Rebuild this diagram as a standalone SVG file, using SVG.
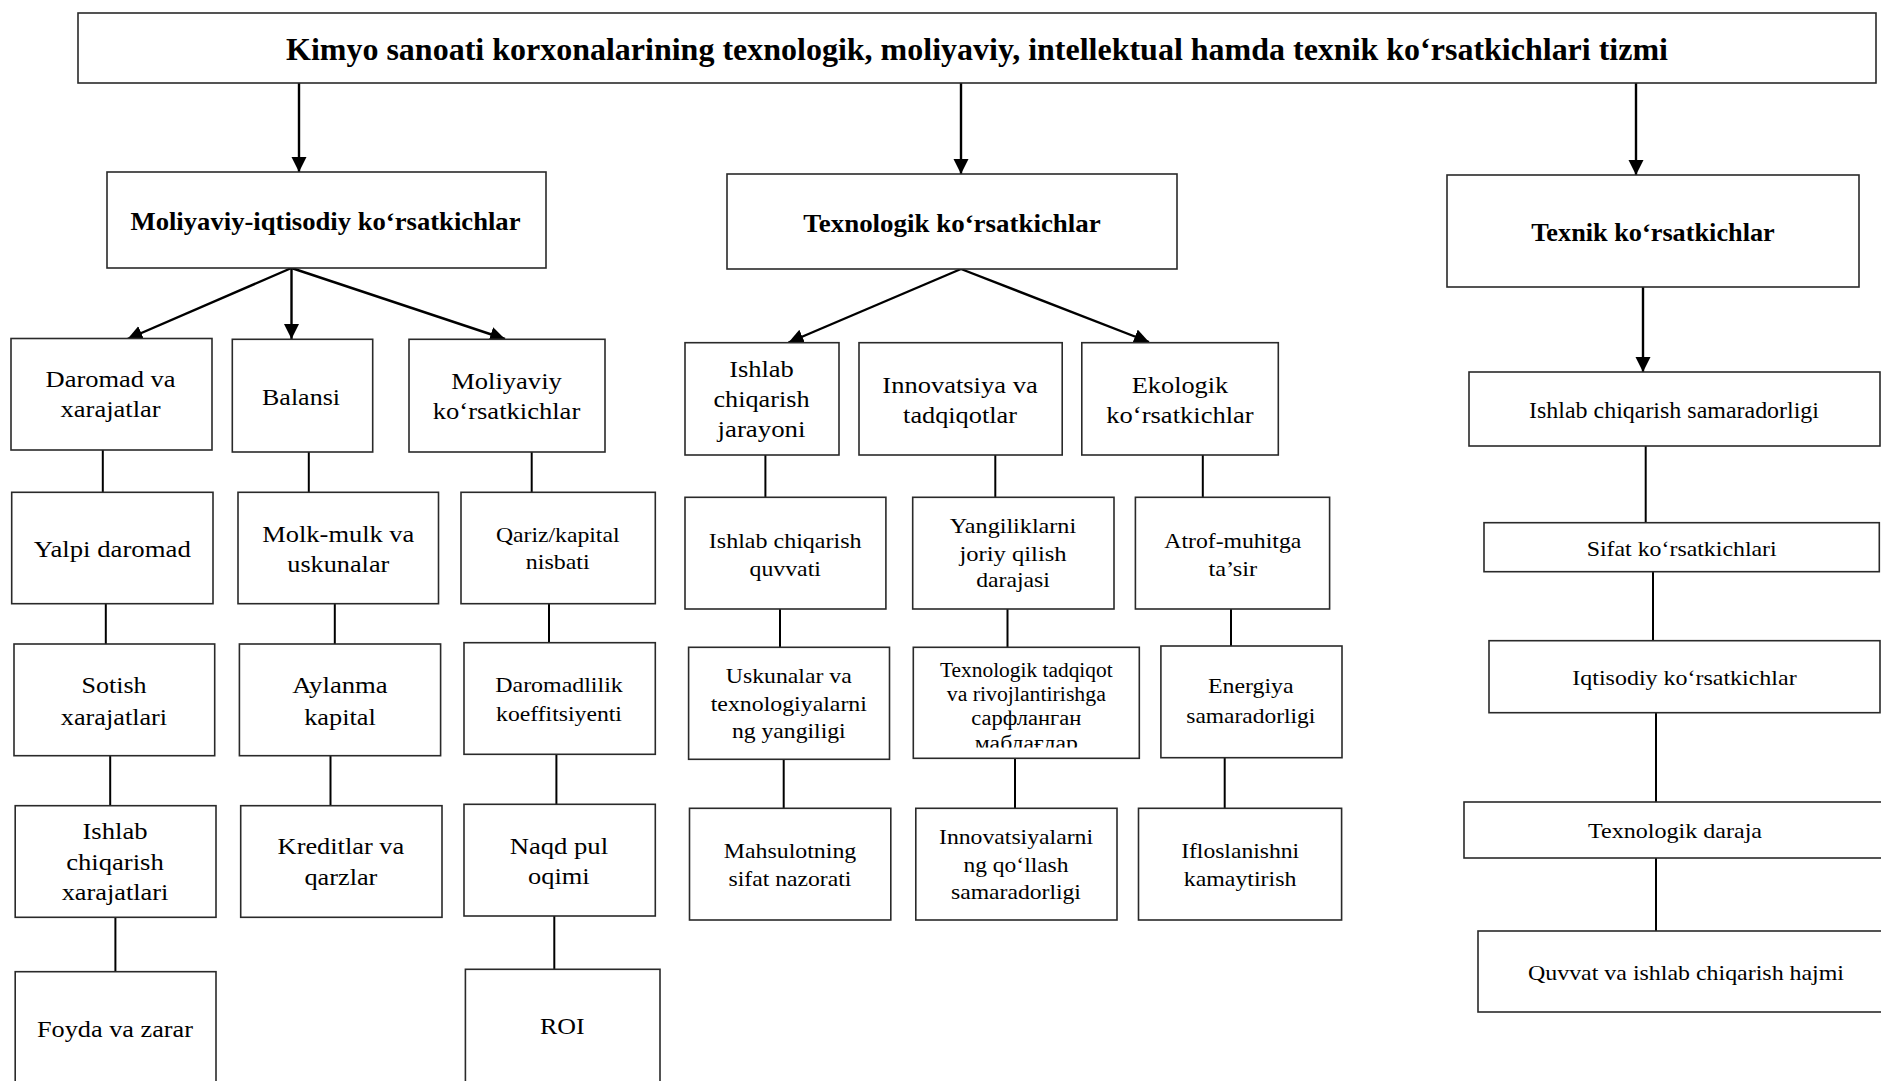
<svg xmlns="http://www.w3.org/2000/svg" width="1881" height="1081" viewBox="0 0 1881 1081">
  <style>
    .box { fill: #ffffff; stroke: #2a2a2a; stroke-width: 1.6; }
    .t { font-family: "Liberation Serif", "Times New Roman", serif; text-anchor: middle; fill: #000000; }
    .b { font-weight: bold; }
    .s31 { font-size: 31px; }
    .s26 { font-size: 26px; }
    .s24 { font-size: 24px; }
    .s22 { font-size: 22px; }
    .s21 { font-size: 21px; }
    .s20 { font-size: 20px; }
    .ln { stroke: #000000; stroke-width: 2; fill: none; }
    .ar { stroke: #000000; stroke-width: 2.4; fill: none; marker-end: url(#head); }
  </style>
  <defs>
    <marker id="head" markerUnits="userSpaceOnUse" markerWidth="16" markerHeight="16" refX="15" refY="7.5" orient="auto">
      <path d="M0,0 L15,7.5 L0,15 Z" fill="#000000"/>
    </marker>
    <clipPath id="clip-tadqiqot">
      <rect x="914" y="648" width="224" height="99.5"/>
    </clipPath>
  </defs>

  <rect x="0" y="0" width="1881" height="1081" fill="#ffffff"/>

  <!-- connectors -->
  <g id="connectors">
    <line class="ar" x1="299" y1="83" x2="299" y2="172"/>
    <line class="ar" x1="961" y1="83" x2="961" y2="174"/>
    <line class="ar" x1="1636" y1="83" x2="1636" y2="175"/>

    <line class="ar" x1="291.5" y1="268" x2="127.5" y2="339"/>
    <line class="ar" x1="291.5" y1="268" x2="291.5" y2="339"/>
    <line class="ar" x1="291.5" y1="268" x2="505" y2="339"/>

    <line class="ar" x1="961" y1="269" x2="788.5" y2="342.5"/>
    <line class="ar" x1="961" y1="269" x2="1149" y2="342"/>

    <line class="ar" x1="1643" y1="287" x2="1643" y2="372"/>

    <line class="ln" x1="102.8" y1="450" x2="102.8" y2="492"/>
    <line class="ln" x1="308.8" y1="452" x2="308.8" y2="492"/>
    <line class="ln" x1="531.7" y1="452" x2="531.7" y2="492"/>
    <line class="ln" x1="105.8" y1="604" x2="105.8" y2="644"/>
    <line class="ln" x1="334.8" y1="604" x2="334.8" y2="644"/>
    <line class="ln" x1="549" y1="604" x2="549" y2="642.7"/>
    <line class="ln" x1="110.2" y1="756" x2="110.2" y2="805.7"/>
    <line class="ln" x1="330.5" y1="756" x2="330.5" y2="805.7"/>
    <line class="ln" x1="556.4" y1="754.3" x2="556.4" y2="804.3"/>
    <line class="ln" x1="115.4" y1="917.3" x2="115.4" y2="971.7"/>
    <line class="ln" x1="554.3" y1="916" x2="554.3" y2="969.3"/>

    <line class="ln" x1="765.4" y1="455" x2="765.4" y2="497.3"/>
    <line class="ln" x1="995.3" y1="455" x2="995.3" y2="497.3"/>
    <line class="ln" x1="1202.8" y1="455" x2="1202.8" y2="497.3"/>
    <line class="ln" x1="780" y1="609" x2="780" y2="647.3"/>
    <line class="ln" x1="1007.5" y1="609" x2="1007.5" y2="647.3"/>
    <line class="ln" x1="1231" y1="609" x2="1231" y2="646"/>
    <line class="ln" x1="783.7" y1="759.3" x2="783.7" y2="808.3"/>
    <line class="ln" x1="1015" y1="758.3" x2="1015" y2="808.3"/>
    <line class="ln" x1="1224.7" y1="757.7" x2="1224.7" y2="808.3"/>

    <line class="ln" x1="1645.7" y1="446" x2="1645.7" y2="522.7"/>
    <line class="ln" x1="1653" y1="571.7" x2="1653" y2="640.7"/>
    <line class="ln" x1="1656" y1="712.7" x2="1656" y2="802"/>
    <line class="ln" x1="1656" y1="858" x2="1656" y2="931"/>
  </g>

  <!-- root -->
  <g id="tizim">
    <rect class="box" x="78" y="13" width="1798" height="70"/>
    <text class="t b s31" x="977" y="60" textLength="1382" lengthAdjust="spacingAndGlyphs">Kimyo sanoati korxonalarining texnologik, moliyaviy, intellektual hamda texnik ko‘rsatkichlari tizmi</text>
  </g>

  <!-- headers -->
  <g id="moliyaviy-iqtisodiy">
    <rect class="box" x="107" y="172" width="439" height="96"/>
    <text class="t b s26" x="325.5" y="230" textLength="390" lengthAdjust="spacingAndGlyphs">Moliyaviy-iqtisodiy ko‘rsatkichlar</text>
  </g>
  <g id="texnologik">
    <rect class="box" x="727" y="174" width="450" height="95"/>
    <text class="t b s26" x="952" y="231.5" textLength="297.5" lengthAdjust="spacingAndGlyphs">Texnologik ko‘rsatkichlar</text>
  </g>
  <g id="texnik">
    <rect class="box" x="1447" y="175" width="412" height="112"/>
    <text class="t b s26" x="1653" y="240.7" textLength="243.5" lengthAdjust="spacingAndGlyphs">Texnik ko‘rsatkichlar</text>
  </g>

  <!-- financial branch -->
  <g id="daromad-xarajatlar">
    <rect class="box" x="11" y="338.5" width="201" height="111.5"/>
    <text class="t s24" x="110.6" y="387.3" textLength="130" lengthAdjust="spacingAndGlyphs">Daromad va</text>
    <text class="t s24" x="110.6" y="417.3" textLength="100" lengthAdjust="spacingAndGlyphs">xarajatlar</text>
  </g>
  <g id="balansi">
    <rect class="box" x="232.3" y="339.3" width="140.4" height="112.7"/>
    <text class="t s24" x="301" y="405" textLength="78" lengthAdjust="spacingAndGlyphs">Balansi</text>
  </g>
  <g id="moliyaviy-korsatkichlar">
    <rect class="box" x="409" y="339.3" width="196" height="112.7"/>
    <text class="t s24" x="506.5" y="389.3" textLength="110.6" lengthAdjust="spacingAndGlyphs">Moliyaviy</text>
    <text class="t s24" x="506.5" y="419.3" textLength="147.5" lengthAdjust="spacingAndGlyphs">ko‘rsatkichlar</text>
  </g>

  <g id="yalpi-daromad">
    <rect class="box" x="11.7" y="492.3" width="201.3" height="111.4"/>
    <text class="t s24" x="112.3" y="557.3" textLength="157" lengthAdjust="spacingAndGlyphs">Yalpi daromad</text>
  </g>
  <g id="molk-mulk">
    <rect class="box" x="238" y="492.3" width="200.5" height="111.4"/>
    <text class="t s24" x="338.3" y="541.7" textLength="152" lengthAdjust="spacingAndGlyphs">Molk-mulk va</text>
    <text class="t s24" x="338.3" y="571.7" textLength="102" lengthAdjust="spacingAndGlyphs">uskunalar</text>
  </g>
  <g id="qariz-kapital">
    <rect class="box" x="461" y="492.3" width="194.3" height="111.4"/>
    <text class="t s21" x="557.7" y="541.5" textLength="123.6" lengthAdjust="spacingAndGlyphs">Qariz/kapital</text>
    <text class="t s21" x="557.7" y="569" textLength="63.8" lengthAdjust="spacingAndGlyphs">nisbati</text>
  </g>

  <g id="sotish-xarajatlari">
    <rect class="box" x="14" y="644" width="200.7" height="111.7"/>
    <text class="t s24" x="114" y="693.3" textLength="65" lengthAdjust="spacingAndGlyphs">Sotish</text>
    <text class="t s24" x="114" y="725" textLength="106.3" lengthAdjust="spacingAndGlyphs">xarajatlari</text>
  </g>
  <g id="aylanma-kapital">
    <rect class="box" x="239.4" y="644" width="201.2" height="111.7"/>
    <text class="t s24" x="340" y="693.3" textLength="95.4" lengthAdjust="spacingAndGlyphs">Aylanma</text>
    <text class="t s24" x="340" y="725" textLength="71.6" lengthAdjust="spacingAndGlyphs">kapital</text>
  </g>
  <g id="daromadlilik">
    <rect class="box" x="464" y="642.7" width="191.3" height="111.6"/>
    <text class="t s21" x="559" y="692.3" textLength="127.5" lengthAdjust="spacingAndGlyphs">Daromadlilik</text>
    <text class="t s21" x="559" y="720.7" textLength="125.8" lengthAdjust="spacingAndGlyphs">koeffitsiyenti</text>
  </g>

  <g id="ishlab-chiqarish-xarajatlari">
    <rect class="box" x="15.2" y="805.7" width="200.8" height="111.6"/>
    <text class="t s24" x="115" y="839.3" textLength="65" lengthAdjust="spacingAndGlyphs">Ishlab</text>
    <text class="t s24" x="115" y="870" textLength="97.6" lengthAdjust="spacingAndGlyphs">chiqarish</text>
    <text class="t s24" x="115" y="900.3" textLength="106.7" lengthAdjust="spacingAndGlyphs">xarajatlari</text>
  </g>
  <g id="kreditlar-qarzlar">
    <rect class="box" x="240.7" y="805.7" width="201.3" height="111.6"/>
    <text class="t s24" x="340.9" y="854" textLength="126.6" lengthAdjust="spacingAndGlyphs">Kreditlar va</text>
    <text class="t s24" x="340.9" y="885" textLength="72.9" lengthAdjust="spacingAndGlyphs">qarzlar</text>
  </g>
  <g id="naqd-pul">
    <rect class="box" x="464" y="804.3" width="191.3" height="111.7"/>
    <text class="t s24" x="558.9" y="854" textLength="98.4" lengthAdjust="spacingAndGlyphs">Naqd pul</text>
    <text class="t s24" x="558.9" y="884" textLength="61.6" lengthAdjust="spacingAndGlyphs">oqimi</text>
  </g>

  <g id="foyda-zarar">
    <rect class="box" x="15.2" y="971.7" width="200.8" height="130"/>
    <text class="t s24" x="115" y="1036.7" textLength="156" lengthAdjust="spacingAndGlyphs">Foyda va zarar</text>
  </g>
  <g id="roi">
    <rect class="box" x="465.4" y="969.3" width="194.6" height="130"/>
    <text class="t s24" x="562.3" y="1034" textLength="44.7" lengthAdjust="spacingAndGlyphs">ROI</text>
  </g>

  <!-- technological branch -->
  <g id="ishlab-chiqarish-jarayoni">
    <rect class="box" x="685" y="342.7" width="154" height="112.3"/>
    <text class="t s24" x="761.5" y="377.3" textLength="64.7" lengthAdjust="spacingAndGlyphs">Ishlab</text>
    <text class="t s24" x="761.5" y="407.3" textLength="96" lengthAdjust="spacingAndGlyphs">chiqarish</text>
    <text class="t s24" x="761.5" y="437.3" textLength="87.9" lengthAdjust="spacingAndGlyphs">jarayoni</text>
  </g>
  <g id="innovatsiya-tadqiqotlar">
    <rect class="box" x="859" y="342.7" width="203.2" height="112.3"/>
    <text class="t s24" x="960" y="392.7" textLength="155.3" lengthAdjust="spacingAndGlyphs">Innovatsiya va</text>
    <text class="t s24" x="960" y="423.3" textLength="113.8" lengthAdjust="spacingAndGlyphs">tadqiqotlar</text>
  </g>
  <g id="ekologik">
    <rect class="box" x="1081.8" y="342.7" width="196.5" height="112.3"/>
    <text class="t s24" x="1180" y="392.7" textLength="96.4" lengthAdjust="spacingAndGlyphs">Ekologik</text>
    <text class="t s24" x="1180" y="423.3" textLength="147.3" lengthAdjust="spacingAndGlyphs">ko‘rsatkichlar</text>
  </g>

  <g id="ishlab-chiqarish-quvvati">
    <rect class="box" x="685" y="497.3" width="200.9" height="111.7"/>
    <text class="t s22" x="785.2" y="548.3" textLength="152.7" lengthAdjust="spacingAndGlyphs">Ishlab chiqarish</text>
    <text class="t s22" x="785.2" y="576" textLength="71.4" lengthAdjust="spacingAndGlyphs">quvvati</text>
  </g>
  <g id="yangiliklarni-joriy-qilish">
    <rect class="box" x="912.7" y="497.3" width="201.3" height="111.7"/>
    <text class="t s22" x="1013" y="532.7" textLength="126.3" lengthAdjust="spacingAndGlyphs">Yangiliklarni</text>
    <text class="t s22" x="1013" y="561" textLength="107.1" lengthAdjust="spacingAndGlyphs">joriy qilish</text>
    <text class="t s22" x="1013" y="587.3" textLength="73.7" lengthAdjust="spacingAndGlyphs">darajasi</text>
  </g>
  <g id="atrof-muhitga-tasir">
    <rect class="box" x="1135.4" y="497.3" width="194.2" height="111.7"/>
    <text class="t s22" x="1232.8" y="548.3" textLength="137" lengthAdjust="spacingAndGlyphs">Atrof-muhitga</text>
    <text class="t s22" x="1232.8" y="576" textLength="48.7" lengthAdjust="spacingAndGlyphs">ta’sir</text>
  </g>

  <g id="uskunalar-yangiligi">
    <rect class="box" x="688.6" y="647.3" width="200.9" height="112"/>
    <text class="t s22" x="788.8" y="683.3" textLength="125.9" lengthAdjust="spacingAndGlyphs">Uskunalar va</text>
    <text class="t s22" x="788.8" y="711" textLength="156.2" lengthAdjust="spacingAndGlyphs">texnologiyalarni</text>
    <text class="t s22" x="788.8" y="738.3" textLength="113.8" lengthAdjust="spacingAndGlyphs">ng yangiligi</text>
  </g>
  <g id="tadqiqot-mablaglar">
    <rect class="box" x="913.3" y="647.3" width="226" height="111"/>
    <g clip-path="url(#clip-tadqiqot)">
      <text class="t s20" x="1026.3" y="676.7" textLength="172.7" lengthAdjust="spacingAndGlyphs">Texnologik tadqiqot</text>
      <text class="t s20" x="1026.3" y="701" textLength="159" lengthAdjust="spacingAndGlyphs">va rivojlantirishga</text>
      <text class="t s20" x="1026.3" y="725" textLength="110" lengthAdjust="spacingAndGlyphs">сарфланган</text>
      <text class="t s20" x="1026.3" y="749.5" textLength="103" lengthAdjust="spacingAndGlyphs">маблағлар</text>
    </g>
  </g>
  <g id="energiya-samaradorligi">
    <rect class="box" x="1160.9" y="646" width="181.1" height="111.7"/>
    <text class="t s22" x="1250.8" y="693.3" textLength="85.7" lengthAdjust="spacingAndGlyphs">Energiya</text>
    <text class="t s22" x="1250.8" y="723.3" textLength="129" lengthAdjust="spacingAndGlyphs">samaradorligi</text>
  </g>

  <g id="sifat-nazorati">
    <rect class="box" x="689.5" y="808.3" width="201.3" height="111.7"/>
    <text class="t s22" x="790" y="858.3" textLength="132.6" lengthAdjust="spacingAndGlyphs">Mahsulotning</text>
    <text class="t s22" x="790" y="885.7" textLength="122.8" lengthAdjust="spacingAndGlyphs">sifat nazorati</text>
  </g>
  <g id="innovatsiya-samaradorligi">
    <rect class="box" x="915.8" y="808.3" width="201.2" height="111.7"/>
    <text class="t s22" x="1016" y="844" textLength="154" lengthAdjust="spacingAndGlyphs">Innovatsiyalarni</text>
    <text class="t s22" x="1016" y="871.7" textLength="104.9" lengthAdjust="spacingAndGlyphs">ng qo‘llash</text>
    <text class="t s22" x="1016" y="899.3" textLength="129.9" lengthAdjust="spacingAndGlyphs">samaradorligi</text>
  </g>
  <g id="ifloslanish">
    <rect class="box" x="1138.5" y="808.3" width="203.1" height="111.7"/>
    <text class="t s22" x="1240.1" y="858.3" textLength="117.9" lengthAdjust="spacingAndGlyphs">Ifloslanishni</text>
    <text class="t s22" x="1240.1" y="885.7" textLength="112.5" lengthAdjust="spacingAndGlyphs">kamaytirish</text>
  </g>

  <!-- technical branch -->
  <g id="ishlab-samaradorligi">
    <rect class="box" x="1469" y="372" width="411" height="74"/>
    <text class="t s24" x="1674" y="418.3" textLength="290" lengthAdjust="spacingAndGlyphs">Ishlab chiqarish samaradorligi</text>
  </g>
  <g id="sifat-korsatkichlari">
    <rect class="box" x="1484" y="522.7" width="395.3" height="49"/>
    <text class="t s22" x="1681.7" y="555.7" textLength="190" lengthAdjust="spacingAndGlyphs">Sifat ko‘rsatkichlari</text>
  </g>
  <g id="iqtisodiy-korsatkichlar">
    <rect class="box" x="1489" y="640.7" width="391" height="72"/>
    <text class="t s22" x="1684.5" y="685" textLength="224.3" lengthAdjust="spacingAndGlyphs">Iqtisodiy ko‘rsatkichlar</text>
  </g>
  <g id="texnologik-daraja">
    <rect class="box" x="1464" y="802" width="430" height="56"/>
    <text class="t s22" x="1675" y="838.3" textLength="174" lengthAdjust="spacingAndGlyphs">Texnologik daraja</text>
  </g>
  <g id="quvvat-hajmi">
    <rect class="box" x="1478" y="931" width="420" height="81"/>
    <text class="t s22" x="1686" y="980" textLength="316" lengthAdjust="spacingAndGlyphs">Quvvat va ishlab chiqarish hajmi</text>
  </g>
</svg>
